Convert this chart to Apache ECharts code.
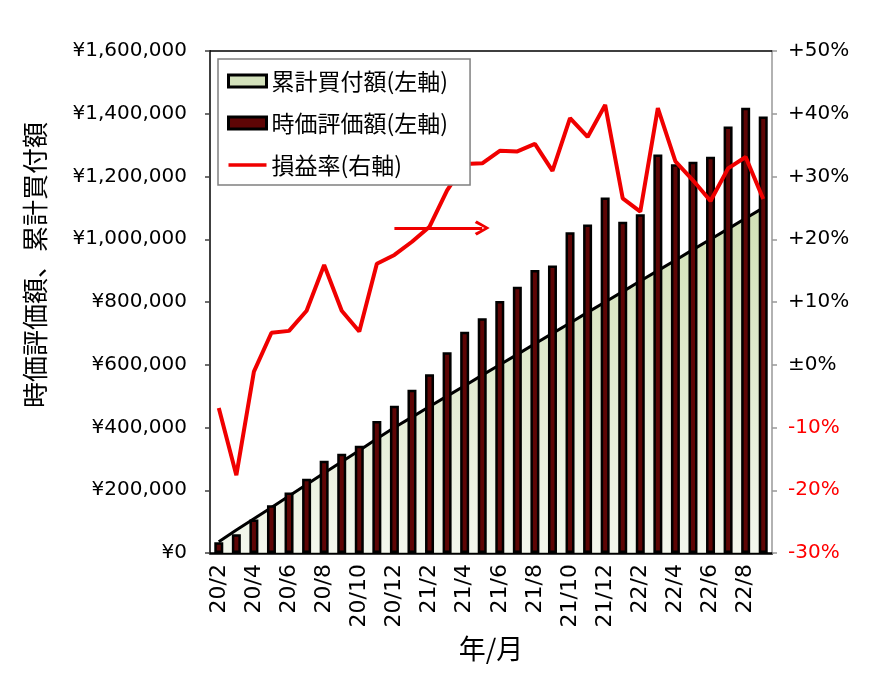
<!DOCTYPE html>
<html><head><meta charset="utf-8">
<script src="https://cdn.jsdelivr.net/npm/echarts@6/dist/echarts.min.js"></script>
<style>html,body{margin:0;padding:0;background:#fff}#c{width:877px;height:680px}</style>
</head><body><div id="c"></div>
<script>
const categories = ['20/2','20/3','20/4','20/5','20/6','20/7','20/8','20/9','20/10','20/11','20/12',
  '21/1','21/2','21/3','21/4','21/5','21/6','21/7','21/8','21/9','21/10','21/11','21/12',
  '22/1','22/2','22/3','22/4','22/5','22/6','22/7','22/8','22/9'];
// 累計買付額 (yen)
const cumulativeCost = [36000,73000,109000,145000,182000,218000,255000,291000,327000,364000,400000,
  433000,467000,500000,533000,567000,600000,633000,667000,700000,733000,767000,800000,
  833000,867000,900000,933000,967000,1000000,1033000,1067000,1100000];
// 時価評価額 (yen)
const marketValue = [34000,60000,107000,152000,193000,237000,294000,316000,342000,421000,469000,
  520000,570000,640000,705000,748000,803000,849000,902000,916000,1022000,1047000,1133000,
  1056000,1080000,1270000,1239000,1247000,1263000,1359000,1419000,1391000];
// 損益率 (%)
const profitRate = [-6.9,-17.6,-1.1,5.1,5.4,8.6,15.9,8.6,5.3,16.1,17.5,
  19.6,22.0,27.8,32.0,32.1,34.1,34.0,35.2,30.9,39.3,36.3,41.4,
  26.5,24.4,40.9,32.4,29.4,26.1,31.3,33.1,26.4];
const leftAxisRange = {min: 0, max: 1600000, interval: 200000};
const rightAxisRange = {min: -30, max: 50, interval: 10};
const arrowFrom = '20/12', arrowTo = '21/5', arrowLevel = 1036000;
const seriesNames = ['累計買付額(左軸)', '時価評価額(左軸)', '損益率(右軸)'];

const JP = '"Noto Sans CJK JP", sans-serif';
const NUM = '"DejaVu Sans", Verdana, sans-serif';
const LINE_ICON = 'path://M0,0 L0.01,0 L0,0.01 Z M0,4.2 L40,4.2 L40,7.8 L0,7.8 Z M0,12 L0.01,12 L0,11.99 Z';

const chart = echarts.init(document.getElementById('c'), null, {renderer: 'canvas'});
chart.setOption({
  animation: false,
  backgroundColor: '#fff',
  grid: {left: 210, right: 105, top: 51, bottom: 127, containLabel: false},
  legend: {
    orient: 'vertical', left: 218, top: 59,
    padding: [9, 22, 7, 9], itemGap: 16,
    itemWidth: 38, itemHeight: 12,
    backgroundColor: '#fff', borderColor: '#808080', borderWidth: 1.5,
    textStyle: {fontFamily: JP, fontSize: 23, color: '#000', lineHeight: 26},
    data: [
      {name: seriesNames[0], icon: 'rect', itemStyle: {color: '#d3e1bb', borderColor: '#000', borderWidth: 3}},
      {name: seriesNames[1], icon: 'rect', itemStyle: {color: '#5e0505', borderColor: '#000', borderWidth: 3}},
      {name: seriesNames[2], icon: LINE_ICON, itemStyle: {color: '#f00000', borderWidth: 0}}
    ]
  },
  xAxis: [{
    type: 'category', data: categories, boundaryGap: true,
    axisLine: {onZero: false, lineStyle: {color: '#000', width: 2.5}},
    axisTick: {show: false},
    axisLabel: {interval: 1, rotate: 90, margin: 11, fontFamily: NUM, fontSize: 22, color: '#000'},
    name: '年/月', nameLocation: 'middle', nameGap: 74,
    nameTextStyle: {fontFamily: JP, fontSize: 27, color: '#000'}
  }, {
    type: 'category', data: categories, position: 'top',
    axisLine: {onZero: false, lineStyle: {color: '#000', width: 1.5}},
    axisTick: {show: false}, axisLabel: {show: false}
  }],
  yAxis: [{
    type: 'value', position: 'left',
    min: leftAxisRange.min, max: leftAxisRange.max, interval: leftAxisRange.interval,
    splitLine: {show: false},
    axisLine: {show: true, lineStyle: {color: '#404040', width: 2}},
    axisTick: {show: true, length: 5, lineStyle: {color: '#404040', width: 1.5}},
    axisLabel: {margin: 23, fontFamily: NUM, fontSize: 20, color: '#000',
      formatter: v => '¥' + v.toLocaleString('en-US')}
  }, {
    type: 'value', position: 'right',
    min: rightAxisRange.min, max: rightAxisRange.max, interval: rightAxisRange.interval,
    splitLine: {show: false},
    axisLine: {show: true, lineStyle: {color: '#999', width: 1.5}},
    axisTick: {show: true, length: 5, lineStyle: {color: '#999', width: 1.5}},
    axisLabel: {margin: 16, fontFamily: NUM, fontSize: 20,
      color: v => (Number(v) < 0 ? '#ff0000' : '#000'),
      formatter: v => v > 0 ? '+' + v + '%' : (v === 0 ? '±0%' : v + '%')}
  }],
  series: [{
    name: seriesNames[0], type: 'line', data: cumulativeCost, yAxisIndex: 0,
    symbol: 'none', z: 1,
    lineStyle: {color: '#000', width: 3},
    itemStyle: {color: '#d3e1bb'},
    areaStyle: {color: new echarts.graphic.LinearGradient(0, 0, 0, 1, [
      {offset: 0, color: '#bdd396'}, {offset: 1, color: '#eef3e5'}])}
  }, {
    name: seriesNames[1], type: 'bar', data: marketValue, yAxisIndex: 0,
    barWidth: 9, z: 2,
    itemStyle: {color: '#5e0505', borderColor: '#000', borderWidth: 2.5},
    markLine: {
      silent: true, symbol: ['none', 'path://M0,10 L6,0 L12,10 L10,11.5 L6,4 L2,11.5 Z'],
      symbolSize: [15, 15],
      label: {show: false},
      lineStyle: {color: '#f00000', width: 3, type: 'solid'},
      data: [[{coord: [arrowFrom, arrowLevel]}, {coord: [arrowTo, arrowLevel]}]]
    }
  }, {
    name: seriesNames[2], type: 'line', data: profitRate, yAxisIndex: 1,
    symbol: 'none', z: 3,
    lineStyle: {color: '#f00000', width: 4},
    itemStyle: {color: '#f00000'}
  }],
  graphic: [{
    type: 'text', x: 35, y: 265, rotation: Math.PI / 2,
    style: {text: '時価評価額、累計買付額', font: '26px ' + JP, fill: '#000',
      align: 'center', verticalAlign: 'middle'}
  }]
});
</script></body></html>
